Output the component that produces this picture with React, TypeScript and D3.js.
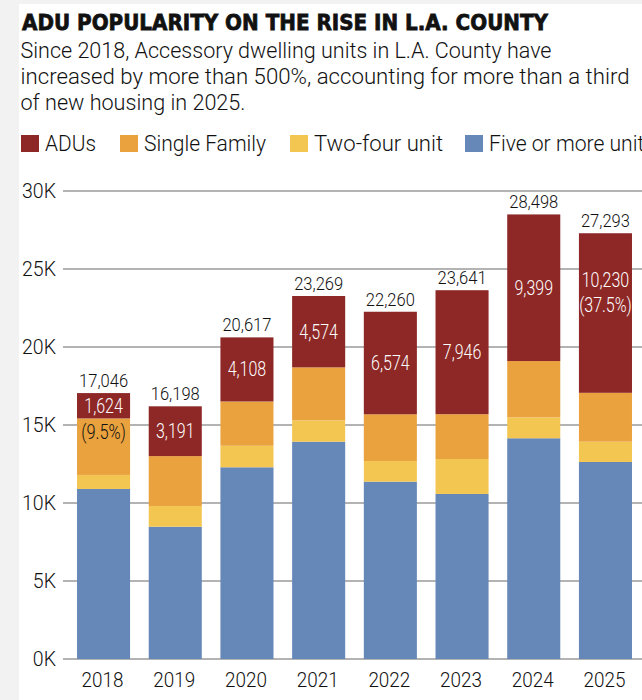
import React from 'react';
import * as d3 from 'd3';

const years = ['2018', '2019', '2020', '2021', '2022', '2023', '2024', '2025'];
const fivePlus = [10900, 8480, 12290, 13930, 11370, 10580, 14150, 12630];
const twoFour = [900, 1330, 1380, 1370, 1320, 2240, 1340, 1300];
const singleFamily = [3622, 3197, 2839, 3395, 2996, 2875, 3609, 3133];
const adus = [1624, 3191, 4108, 4574, 6574, 7946, 9399, 10230];
const totals = [17046, 16198, 20617, 23269, 22260, 23641, 28498, 27293];
const aduShare = ['(9.5%)', '', '', '', '', '', '', '(37.5%)'];
const yTickValues = [0, 5000, 10000, 15000, 20000, 25000, 30000];
const seriesKeys = ['five', 'twoFour', 'single', 'adu'];
const legendNames = ['ADUs', 'Single Family', 'Two-four unit', 'Five or more units'];
const legendKeys = ['adu', 'single', 'twoFour', 'five'];
const colors: Record<string, string> = {
  adu: '#8d2826',
  single: '#e9a23e',
  twoFour: '#f3c652',
  five: '#6688b8',
};

const title = 'ADU POPULARITY ON THE RISE IN L.A. COUNTY';
const subtitle = [
  'Since 2018, Accessory dwelling units in L.A. County have',
  'increased by more than 500%, accounting for more than a third',
  'of new housing in 2025.',
];

const W = 642;
const H = 700;
const FONT = 'Roboto, "Open Sans", sans-serif';

function CText(props: {
  x: number; y: number; size: number; anchor?: string; fill?: string; weight?: number; sx?: number; children: any;
}) {
  const { x, y, size, anchor = 'start', fill = '#111', weight = 300, sx = 0.8, children } = props;
  return (
    <text
      transform={`translate(${x},${y}) scale(${sx},1)`}
      textAnchor={anchor}
      fontFamily={FONT}
      fontSize={size}
      fontWeight={weight}
      fill={fill}
    >
      {children}
    </text>
  );
}

export default function App() {
  const data = years.map((y, i) => ({
    year: y,
    five: fivePlus[i],
    twoFour: twoFour[i],
    single: singleFamily[i],
    adu: adus[i],
    total: totals[i],
    share: aduShare[i],
  }));

  const x = d3.scaleBand<string>().domain(years).range([67.7, 641.3]).paddingInner(0.26).paddingOuter(0.13);
  const y = d3.scaleLinear().domain([0, 30000]).range([659, 191]);
  const stack = d3.stack<any>().keys(seriesKeys)(data);
  const fmt = d3.format(',');
  const bw = x.bandwidth();
  const aduLayer = stack[stack.length - 1];

  const legendX = [21, 120, 290, 465];
  const legendW = [51, 122, 129, 166];
  const subW = [531, 609, 225];

  return (
    <svg
      width={W}
      height={H}
      style={{ position: 'absolute', left: 0, top: 0, background: '#fff' }}
    >
      <rect x={0} y={0} width={W} height={H} fill="#fff" />
      <rect x={0} y={0} width={19} height={H} fill="#f2f2f2" />
      <rect x={0} y={0} width={W} height={4} fill="#f2f2f2" />

      <text
        x={22}
        y={29.5}
        fontFamily='"DejaVu Sans", sans-serif'
        fontWeight={700}
        fontSize={22}
        textLength={526}
        lengthAdjust="spacingAndGlyphs"
        fill="#111"
        stroke="#111"
        strokeWidth={0.8}
      >
        {title}
      </text>

      {subtitle.map((line, i) => (
        <text
          key={i}
          x={20.5}
          y={57.5 + i * 26.3}
          fontFamily={FONT}
          fontWeight={300}
          fontSize={22}
          textLength={subW[i]}
          lengthAdjust="spacingAndGlyphs"
          fill="#111"
        >
          {line}
        </text>
      ))}

      {legendKeys.map((k, i) => (
        <g key={k}>
          <rect x={legendX[i]} y={135} width={18} height={17} fill={colors[k]} />
          <text
            x={legendX[i] + 24}
            y={151}
            fontFamily={FONT}
            fontWeight={300}
            fontSize={22}
            textLength={legendW[i]}
            lengthAdjust="spacingAndGlyphs"
            fill="#111"
          >
            {legendNames[i]}
          </text>
        </g>
      ))}

      {yTickValues.map((v) => (
        <g key={v}>
          <line x1={63} x2={W} y1={y(v)} y2={y(v)} stroke="#9a9a9a" strokeWidth={1.4} />
          <CText x={56} y={y(v) + 7} size={19.5} anchor="end" sx={1}>
            {`${v / 1000}K`}
          </CText>
        </g>
      ))}

      {stack.map((layer) => (
        <g key={layer.key} fill={colors[layer.key as string]}>
          {layer.map((d, i) => (
            <rect
              key={i}
              x={x(years[i])}
              y={y(d[1])}
              width={bw}
              height={y(d[0]) - y(d[1])}
            />
          ))}
        </g>
      ))}

      {data.map((d, i) => {
        const cx = (x(d.year) as number) + bw / 2;
        const seg = aduLayer[i];
        const top = y(seg[1]);
        const bot = y(seg[0]);
        const mid = (top + bot) / 2;
        const small = bot - top < 40;
        return (
          <g key={d.year}>
            <CText x={cx} y={y(d.total) - 6} size={19} anchor="middle" sx={0.87}>
              {fmt(d.total)}
            </CText>
            {d.share && !small ? (
              <>
                <CText x={cx} y={mid - 26} size={20} anchor="middle" fill="#fff" sx={0.8}>
                  {fmt(d.adu)}
                </CText>
                <CText x={cx} y={mid - 1} size={20} anchor="middle" fill="#fff" sx={0.8}>
                  {d.share}
                </CText>
              </>
            ) : (
              <CText x={cx} y={mid + 7} size={20} anchor="middle" fill="#fff" sx={0.8}>
                {fmt(d.adu)}
              </CText>
            )}
            {d.share && small ? (
              <CText x={cx} y={bot + 21} size={20} anchor="middle" sx={0.82}>
                {d.share}
              </CText>
            ) : null}
            <CText x={cx - 1} y={687} size={21} anchor="middle" sx={0.9}>
              {d.year}
            </CText>
          </g>
        );
      })}
    </svg>
  );
}
